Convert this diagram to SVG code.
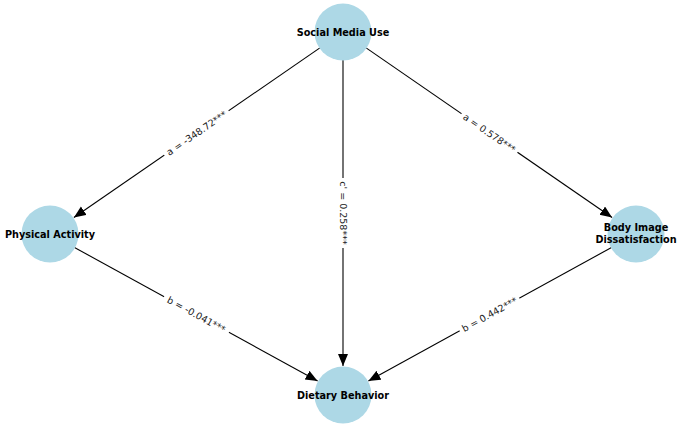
<svg xmlns="http://www.w3.org/2000/svg" width="680" height="432" viewBox="0 0 680 432">
<style>
.node circle{fill:#ADD8E6;}
.node text{font-family:"DejaVu Sans",sans-serif;font-weight:bold;font-size:9.7px;fill:#000;text-anchor:middle;dominant-baseline:central;}
.edge line{stroke:#000;stroke-width:1.1;marker-end:url(#ah);}
.lbl rect{fill:#fff;}
.lbl text{font-family:"DejaVu Sans",sans-serif;font-size:9.5px;fill:#222;text-anchor:middle;dominant-baseline:central;}
</style>
<defs>
<marker id="ah" markerUnits="userSpaceOnUse" markerWidth="14" markerHeight="12" refX="12" refY="5" orient="auto">
<path d="M0,0 L12,5 L0,10 Z" fill="#000"/>
</marker>
</defs>
<rect width="680" height="432" fill="#fff"/>
<g id="connectors">
<g class="edge">
<line x1="319.9" y1="47.9" x2="73.9" y2="217.5"/>
<line x1="366.1" y1="47.9" x2="612.1" y2="217.5"/>
<line x1="343" y1="60" x2="343" y2="366"/>
<line x1="74.5" y1="247.5" x2="317.6" y2="381"/>
<line x1="611.5" y1="247.5" x2="368.4" y2="381"/>
</g>
<g class="lbl">
<g transform="translate(196.5,133) rotate(-34.6)"><rect x="-39" y="-7" width="78" height="14"/><text>a = -348.72***</text></g>
<g transform="translate(489.5,133) rotate(34.6)"><rect x="-34" y="-7" width="68" height="14"/><text>a = 0.578***</text></g>
<g transform="translate(343,213) rotate(90)"><rect x="-35" y="-7" width="70" height="14"/><text>c' = 0.258***</text></g>
<g transform="translate(196.5,314.5) rotate(28.8)"><rect x="-37" y="-7" width="74" height="14"/><text>b = -0.041***</text></g>
<g transform="translate(489.5,314.5) rotate(-28.8)"><rect x="-34" y="-7" width="68" height="14"/><text>b = 0.442***</text></g>
</g>
</g>
<g id="node-smu" class="node"><circle cx="343" cy="32" r="28.5"/><text x="343" y="32">Social Media Use</text></g>
<g id="node-pa" class="node"><circle cx="50" cy="234" r="28.5"/><text x="50" y="234">Physical Activity</text></g>
<g id="node-bid" class="node"><circle cx="636" cy="234" r="28.5"/><text x="636" y="227">Body Image</text><text x="636" y="239.5">Dissatisfaction</text></g>
<g id="node-db" class="node"><circle cx="343" cy="395" r="28.5"/><text x="343" y="395">Dietary Behavior</text></g>
</svg>
